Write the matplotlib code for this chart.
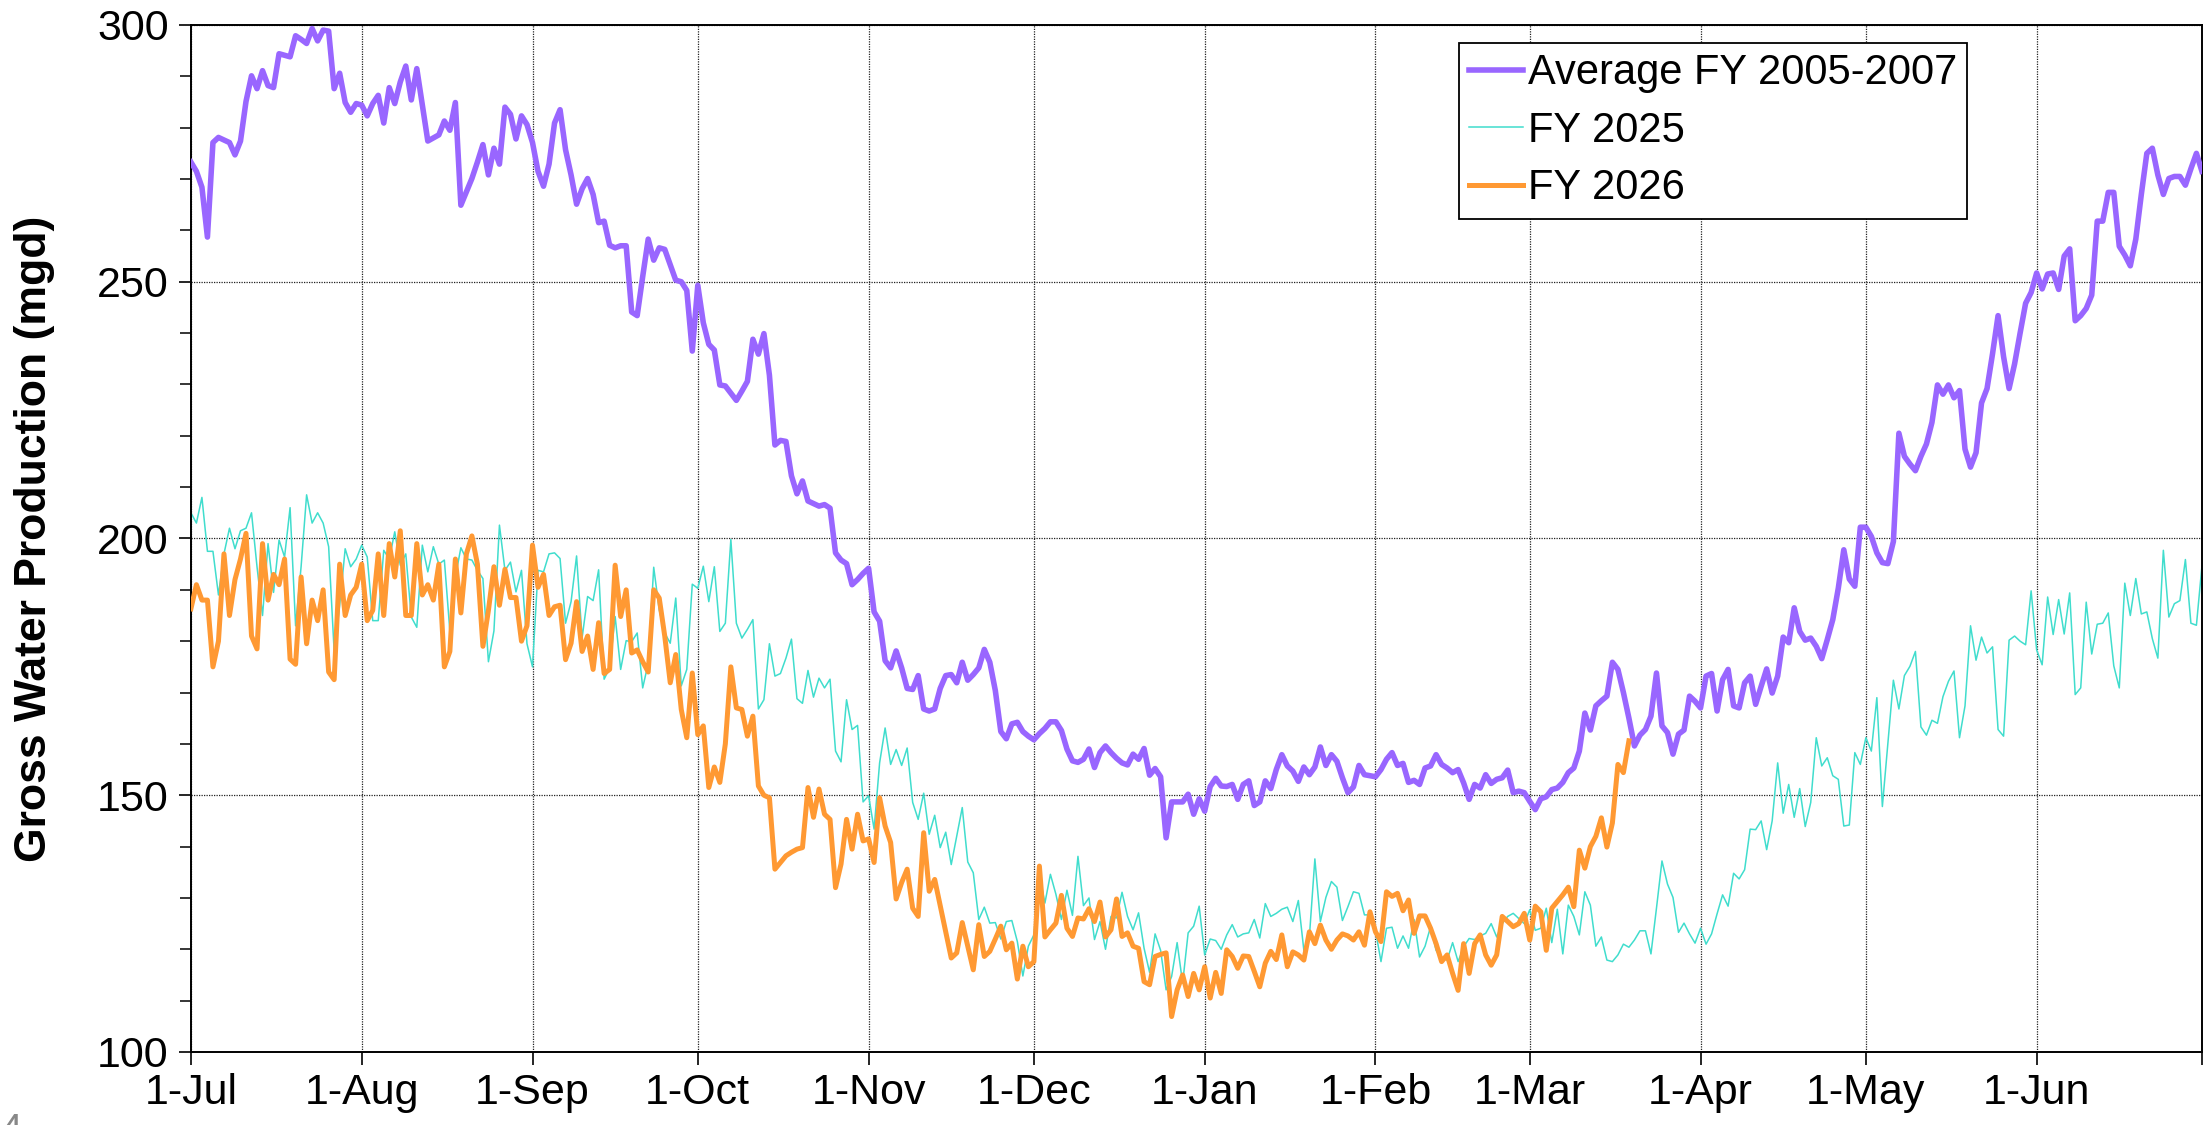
import numpy as np
import matplotlib
matplotlib.use("Agg")
import matplotlib.pyplot as plt
from matplotlib.ticker import MultipleLocator

plt.rcParams['font.family'] = ['Liberation Sans', 'DejaVu Sans']

# daily gross water production (mgd), index 0 = 1-Jul
avg_2005_2007 = [
    273.3, 271.5, 268.4, 258.7, 277.1, 278.1, 277.6, 277.1, 274.7, 277.4,
    285.1, 290.1, 287.6, 291.1, 288.2, 287.8, 294.4, 294.1, 293.8, 297.9,
    297.2, 296.4, 299.3, 296.9, 299.0, 298.8, 287.6, 290.6, 284.9, 283.0,
    284.7, 284.4, 282.3, 284.7, 286.3, 280.9, 287.8, 284.7, 288.9, 292.0,
    285.4, 291.5, 284.5, 277.4, 278.0, 278.6, 281.3, 279.5, 284.9, 264.9,
    267.5, 270.1, 273.3, 276.7, 270.8, 276.0, 272.9, 284.0, 282.6, 277.8,
    282.3, 280.6, 277.1, 271.5, 268.6, 272.9, 280.9, 283.5, 275.7, 270.8,
    265.1, 268.1, 270.1, 267.0, 261.5, 261.8, 257.1, 256.6, 257.0, 257.0,
    244.1, 243.4, 251.0, 258.3, 254.2, 256.6, 256.3, 253.3, 250.3, 250.0,
    248.3, 236.5, 249.3, 242.0, 237.8, 236.7, 229.9, 229.7, 228.3, 226.9,
    228.7, 230.6, 238.8, 235.9, 239.9, 231.8, 218.2, 219.1, 218.9, 212.2,
    208.7, 211.2, 207.3, 206.8, 206.3, 206.6, 205.9, 197.2, 195.8, 195.1,
    191.0, 192.0, 193.2, 194.2, 185.7, 183.9, 176.2, 174.8, 178.1, 174.8,
    170.8, 170.6, 173.3, 166.8, 166.4, 166.8, 170.8, 173.3, 173.5, 171.9,
    175.9, 172.4, 173.5, 174.8, 178.4, 175.9, 170.4, 162.4, 161.0, 163.9,
    164.2, 162.4, 161.5, 160.8, 162.0, 163.0, 164.3, 164.3, 162.6, 159.0,
    156.7, 156.4, 157.0, 159.0, 155.4, 158.3, 159.6, 158.3, 157.2, 156.3,
    155.9, 158.0, 157.0, 159.1, 153.9, 155.2, 153.6, 141.7, 148.7, 148.7,
    148.7, 150.2, 146.3, 149.3, 146.9, 151.7, 153.3, 151.8, 151.7, 152.1,
    149.2, 152.1, 152.8, 148.0, 148.7, 152.8, 151.3, 155.0, 157.9, 155.7,
    154.7, 152.7, 155.5, 154.0, 155.5, 159.4, 155.8, 157.9, 156.6, 153.4,
    150.5, 151.6, 155.8, 154.0, 153.8, 153.6, 155.0, 157.0, 158.3, 155.8,
    156.2, 152.5, 152.9, 152.1, 155.3, 155.7, 157.9, 156.0, 155.3, 154.4,
    155.0, 152.4, 149.2, 152.1, 151.4, 154.0, 152.3, 153.1, 153.4, 154.9,
    150.5, 150.8, 150.5, 148.8, 147.2, 149.3, 149.7, 151.1, 151.4, 152.5,
    154.4, 155.3, 158.6, 166.0, 162.7, 167.4, 168.4, 169.3, 175.9, 174.5,
    170.0, 165.0, 159.6, 161.7, 162.8, 165.4, 173.8, 163.5, 162.2, 158.0,
    161.9, 162.7, 169.3, 168.3, 167.0, 173.2, 173.7, 166.4, 172.5, 174.5,
    167.4, 167.0, 171.9, 173.2, 167.7, 171.2, 174.6, 169.9, 173.2, 180.8,
    179.7, 186.5, 181.9, 180.2, 180.6, 179.0, 176.6, 180.3, 184.2, 190.3,
    197.8, 192.1, 190.7, 202.2, 202.2, 200.4, 197.2, 195.3, 195.1, 199.4,
    220.5, 216.0, 214.5, 213.2, 216.0, 218.4, 222.6, 229.9, 228.1, 229.9,
    227.4, 228.8, 217.4, 213.9, 216.7, 226.4, 229.2, 236.0, 243.4, 235.4,
    229.2, 234.0, 240.0, 245.8, 247.9, 251.7, 248.6, 251.5, 251.7, 248.5,
    255.0, 256.4, 242.4, 243.4, 244.8, 247.4, 261.8, 261.8, 267.4, 267.4,
    256.9, 255.2, 253.1, 258.3, 267.0, 275.0, 276.0, 270.8, 267.0, 270.1,
    270.5, 270.5, 268.8, 272.0, 275.0, 271.5,
]

fy2025 = [
    205.0, 203.0, 208.0, 197.5, 197.5, 189.0, 197.0, 202.0, 198.0, 201.5,
    202.0, 205.0, 194.5, 185.0, 199.0, 189.5, 199.7, 196.4, 206.0, 183.0,
    194.5, 208.5, 203.0, 205.0, 203.0, 198.4, 178.0, 187.0, 198.0, 194.5,
    196.0, 198.7, 196.4, 184.0, 184.0, 197.7, 196.0, 201.3, 194.8, 197.0,
    184.7, 182.7, 198.7, 193.5, 198.4, 195.0, 195.8, 182.0, 192.5, 198.2,
    196.0, 195.8, 193.8, 192.2, 176.0, 182.0, 202.6, 193.8, 195.4, 189.6,
    193.8, 179.5, 175.0, 193.8, 193.5, 197.0, 197.2, 196.1, 183.5, 187.7,
    196.6, 180.6, 188.7, 187.9, 193.9, 172.6, 174.8, 184.8, 174.5, 180.1,
    179.9, 181.6, 170.9, 175.7, 194.4, 186.1, 181.6, 179.6, 188.4, 171.3,
    174.5, 191.1, 190.3, 194.6, 187.7, 194.5, 181.9, 183.5, 199.8, 183.5,
    180.6, 182.3, 184.2, 166.8, 168.6, 179.5, 173.2, 173.7, 176.7, 180.4,
    168.8, 167.9, 174.3, 169.1, 172.8, 170.9, 172.6, 158.6, 156.5, 168.6,
    162.8, 163.6, 148.7, 149.9, 143.4, 156.3, 163.1, 156.0, 158.9, 155.8,
    159.2, 148.6, 145.3, 150.4, 142.4, 146.1, 139.8, 142.8, 136.5, 142.0,
    147.6, 137.0, 134.9, 125.8, 128.2, 125.1, 125.2, 122.0, 125.4, 125.6,
    121.5, 114.8, 120.6, 122.8, 134.4, 129.0, 134.6, 130.7, 125.8, 131.5,
    126.6, 138.1, 128.5, 130.0, 121.9, 125.4, 120.0, 126.4, 126.1, 131.1,
    126.4, 123.8, 127.1, 120.2, 115.5, 123.0, 119.8, 112.1, 114.7, 121.3,
    113.4, 123.2, 124.5, 128.4, 118.9, 122.0, 121.7, 120.0, 122.8, 124.8,
    122.4, 123.0, 123.2, 125.8, 122.2, 128.9, 126.4, 127.0, 127.8, 128.2,
    125.4, 129.5, 119.8, 122.4, 137.6, 125.4, 130.1, 133.2, 132.1, 125.6,
    128.3, 131.2, 130.9, 126.7, 126.7, 123.7, 117.6, 124.1, 124.3, 120.2,
    122.6, 120.2, 125.8, 118.5, 120.6, 124.4, 119.8, 118.2, 117.9, 121.3,
    117.6, 120.5, 122.1, 121.9, 122.6, 123.1, 125.0, 122.4, 125.0, 126.4,
    127.0, 126.0, 125.0, 127.7, 123.7, 124.1, 128.0, 121.3, 127.8, 119.1,
    128.6, 126.4, 122.8, 131.2, 128.6, 120.6, 122.4, 117.9, 117.6, 118.9,
    121.0, 120.4, 121.8, 123.6, 123.6, 119.1, 128.0, 137.2, 132.7, 130.1,
    123.3, 125.1, 123.0, 121.2, 124.1, 121.0, 123.0, 126.9, 130.6, 128.4,
    134.8, 133.7, 135.5, 143.4, 143.3, 145.0, 139.4, 145.0, 156.3, 146.5,
    152.1, 145.7, 151.3, 143.9, 148.6, 161.2, 155.7, 157.3, 153.8, 153.1,
    144.0, 144.2, 158.3, 156.0, 161.2, 158.6, 169.0, 147.8, 160.0, 172.4,
    166.8, 173.3, 175.1, 178.0, 163.3, 161.7, 164.6, 164.0, 169.2, 172.2,
    174.2, 161.2, 167.4, 183.0, 176.3, 180.8, 177.7, 178.9, 162.8, 161.5,
    180.2, 181.0, 180.0, 179.3, 189.8, 178.3, 175.4, 188.6, 181.3, 188.1,
    181.4, 189.4, 169.6, 170.9, 187.6, 177.5, 183.3, 183.5, 185.5, 175.2,
    170.9, 191.3, 185.0, 192.2, 185.3, 185.7, 180.5, 176.7, 197.7, 184.7,
    187.3, 187.9, 195.9, 183.5, 183.1, 194.6,
]

fy2026 = [
    186.3, 191.0, 188.0, 188.0, 175.0, 180.0, 197.0, 185.0, 192.0, 196.0,
    201.0, 181.0, 178.5, 199.0, 188.0, 193.0, 191.0, 196.0, 176.5, 175.5,
    192.5, 179.5, 188.0, 184.0, 190.0, 174.0, 172.5, 195.0, 185.0, 189.0,
    190.5, 195.0, 184.0, 186.0, 197.0, 185.0, 199.0, 192.5, 201.5, 185.0,
    185.0, 199.0, 189.0, 191.0, 188.0, 195.0, 175.0, 178.0, 196.0, 185.5,
    197.0, 200.5, 195.0, 179.0, 186.0, 194.5, 187.0, 194.0, 188.5, 188.5,
    180.0, 183.0, 198.7, 190.5, 193.0, 185.0, 186.7, 187.0, 176.4, 179.6,
    187.7, 178.0, 181.0, 174.5, 183.6, 173.7, 174.5, 194.8, 184.8, 190.0,
    177.7, 178.3, 176.0, 174.0, 190.0, 188.4, 181.0, 171.9, 177.4, 166.7,
    161.2, 173.8, 161.8, 163.5, 151.5, 155.5, 152.5, 160.0, 175.0, 167.0,
    166.7, 161.5, 165.4, 151.8, 150.0, 149.5, 135.6, 136.9, 138.2, 138.9,
    139.5, 139.8, 151.5, 145.7, 151.2, 146.3, 145.3, 132.0, 136.6, 145.3,
    139.5, 146.3, 141.1, 141.5, 136.9, 149.5, 144.0, 140.8, 129.8, 133.0,
    135.6, 128.0, 126.4, 142.7, 131.3, 133.6, 128.5, 123.4, 118.3, 119.3,
    125.2, 120.6, 116.0, 124.8, 118.6, 119.6, 122.0, 124.5, 119.9, 121.2,
    114.2, 120.6, 116.6, 117.6, 136.2, 122.4, 123.8, 125.1, 130.5, 124.1,
    122.5, 126.1, 125.9, 127.9, 125.4, 129.2, 122.4, 123.8, 129.8, 122.5,
    123.2, 120.6, 120.2, 113.7, 113.1, 118.6, 119.0, 119.3, 106.9, 112.1,
    115.0, 110.8, 115.3, 112.1, 116.6, 110.5, 115.5, 111.4, 119.9, 118.6,
    116.3, 118.7, 118.6, 115.7, 112.7, 117.3, 119.6, 118.0, 122.8, 116.6,
    119.5, 118.9, 117.9, 123.4, 121.1, 124.7, 121.8, 120.0, 121.8, 123.0,
    122.6, 121.8, 123.4, 120.8, 127.3, 123.4, 121.5, 131.2, 130.3, 130.9,
    127.5, 129.6, 123.1, 126.5, 126.5, 124.1, 121.1, 117.6, 118.9, 115.3,
    112.0, 121.1, 115.3, 121.1, 122.8, 118.9, 116.9, 118.9, 126.4, 125.4,
    124.4, 125.0, 127.0, 121.8, 128.4, 127.3, 119.8, 128.0, 129.3, 130.6,
    132.1, 128.3, 139.3, 135.8, 140.0, 142.0, 145.6, 139.9, 144.6, 156.0,
    154.4, 160.6,
]

month_starts = [0, 31, 62, 92, 123, 153, 184, 215, 243, 274, 304, 335, 365]
month_labels = ['1-Jul', '1-Aug', '1-Sep', '1-Oct', '1-Nov', '1-Dec', '1-Jan',
                '1-Feb', '1-Mar', '1-Apr', '1-May', '1-Jun', '']

fig = plt.figure(figsize=(22.07, 11.25), dpi=100)
ax = fig.add_axes([0.0865, 0.0649, 0.9112, 0.9129])

ax.plot(np.arange(len(avg_2005_2007)), avg_2005_2007, color='#9966FF', lw=4.0,
        label='Average FY 2005-2007', zorder=3)
ax.plot(np.arange(len(fy2025)), fy2025, color='#40DDCD', lw=1.1,
        label='FY 2025', zorder=2)
ax.plot(np.arange(len(fy2026)), fy2026, color='#FF9933', lw=3.6,
        label='FY 2026', zorder=4)

ax.set_xlim(0, 365)
ax.set_ylim(100, 300)
ax.set_xticks(month_starts)
ax.set_xticklabels(month_labels)
ax.set_yticks([100, 150, 200, 250, 300])
ax.yaxis.set_minor_locator(MultipleLocator(10))

ax.grid(True, which='major', color='#222222', linestyle=(0, (1, 1)), lw=0.9)
ax.tick_params(axis='both', which='major', direction='out', length=9,
               width=1.2, labelsize=31, colors='black')
ax.tick_params(axis='x', which='major', pad=6)
ax.tick_params(axis='y', which='major', pad=7)
ax.tick_params(axis='y', which='minor', direction='out', length=8, width=1.1)
for s in ax.spines.values():
    s.set_linewidth(1.4)
    s.set_color('black')

ax.set_ylabel('Gross Water Production (mgd)', fontsize=32, fontweight='bold')
ax.yaxis.set_label_coords(-0.0675, 0.5)

leg = ax.legend(loc='upper left', bbox_to_anchor=(0.6305, 0.9825),
                borderaxespad=0, fontsize=30, frameon=True, fancybox=False,
                handlelength=1.3, handletextpad=0.1, borderpad=0.25,
                labelspacing=0.42)
leg.get_frame().set_edgecolor('black')
leg.get_frame().set_linewidth(1.3)
leg.get_frame().set_alpha(1)

fig.text(0.0, 0.0107, '4', fontsize=28, color='#888888', ha='left', va='top')

fig.savefig('out.png', dpi=100)
